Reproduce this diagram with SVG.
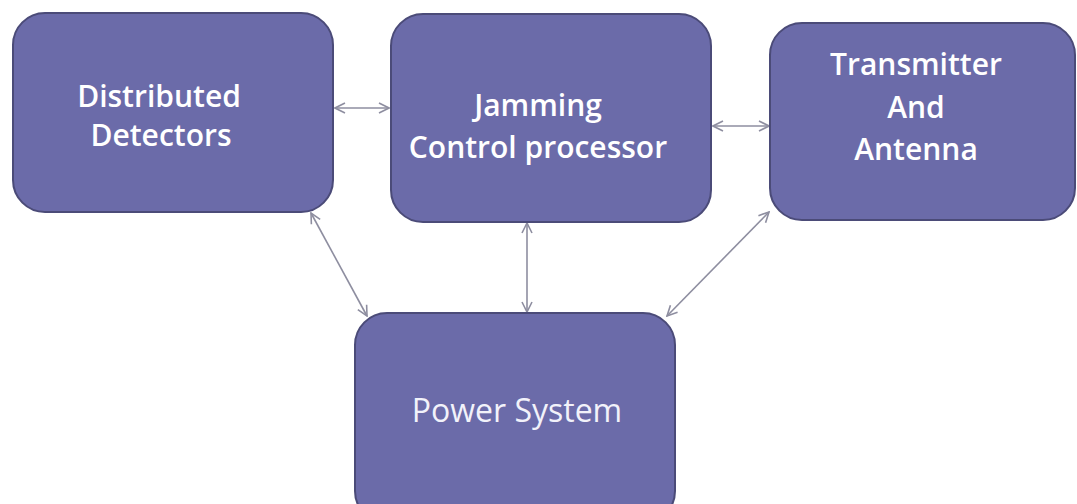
<svg xmlns="http://www.w3.org/2000/svg" width="1077" height="504" viewBox="0 0 1077 504">
<defs>
<marker id="arr" viewBox="0 0 12 12" refX="11" refY="6" markerWidth="12" markerHeight="12" markerUnits="userSpaceOnUse" orient="auto-start-reverse">
<path d="M1,1 L11,6 L1,11" fill="none" stroke="#8e8ea0" stroke-width="1.6"/>
</marker>
</defs>
<style>
.box{fill:#6b6ba9;stroke:#4b4b78;stroke-width:2}
.lbl{font-family:"Open Sans","Noto Sans",sans-serif;font-size:30px;font-weight:600;fill:#ffffff;text-anchor:middle}
.lbl2{font-family:"Open Sans","Noto Sans",sans-serif;font-size:32px;font-weight:400;fill:#f2f2fa;text-anchor:middle}
.con{stroke:#8e8ea0;stroke-width:1.6;fill:none;marker-start:url(#arr);marker-end:url(#arr)}
</style>
<rect width="1077" height="504" fill="#ffffff"/>
<g id="connectors">
<line class="con" x1="335" y1="108" x2="389" y2="108"/>
<line class="con" x1="713" y1="126" x2="769" y2="126"/>
<line class="con" x1="367" y1="316" x2="311" y2="213"/>
<line class="con" x1="527" y1="312" x2="527" y2="223"/>
<line class="con" x1="667" y1="316" x2="769" y2="212"/>
</g>
<g id="distributed-detectors">
<rect class="box" x="13" y="13" width="320" height="199" rx="32"/>
<text class="lbl" x="159" y="107">Distributed</text>
<text class="lbl" x="161" y="146">Detectors</text>
</g>
<g id="jamming-control">
<rect class="box" x="391" y="14" width="320" height="208" rx="32"/>
<text class="lbl" x="538" y="116">Jamming</text>
<text class="lbl" x="538" y="158">Control processor</text>
</g>
<g id="transmitter">
<rect class="box" x="770" y="23" width="305" height="197" rx="32"/>
<text class="lbl" x="916" y="75">Transmitter</text>
<text class="lbl" x="916" y="118">And</text>
<text class="lbl" x="916" y="160">Antenna</text>
</g>
<g id="power-system">
<rect class="box" x="355" y="313" width="320" height="210" rx="32"/>
<text class="lbl2" x="517" y="422">Power System</text>
</g>
</svg>
